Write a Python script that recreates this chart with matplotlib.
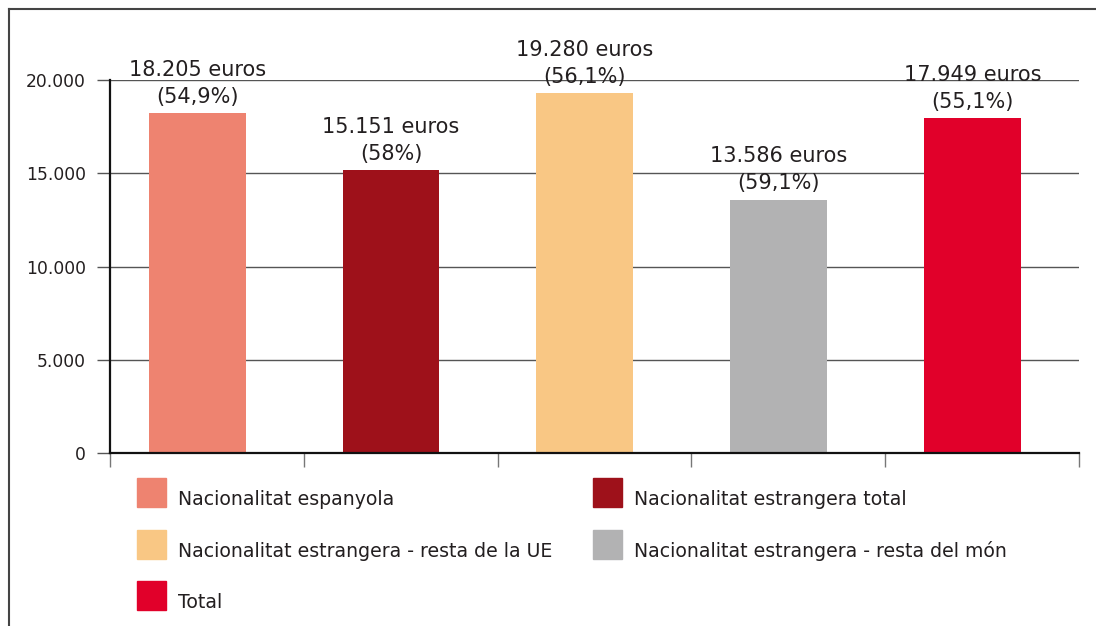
import matplotlib
matplotlib.use('Agg')
import matplotlib.pyplot as plt
from matplotlib.patches import Rectangle
from matplotlib.lines import Line2D
from matplotlib.ticker import FuncFormatter

plt.rcParams['font.family'] = ['DejaVu Sans']

categories = ['Nacionalitat espanyola', 'Nacionalitat estrangera total',
              'Nacionalitat estrangera - resta de la UE',
              'Nacionalitat estrangera - resta del món', 'Total']
values = [18205, 15151, 19280, 13586, 17949]
pct_labels = ['54,9%', '58%', '56,1%', '59,1%', '55,1%']
colors = ['#EE8370', '#9E111A', '#F9C784', '#B2B2B3', '#E1002A']
yticks = [0, 5000, 10000, 15000, 20000]

W, H = 1096, 626
TXT = '#231f20'
fig = plt.figure(figsize=(W / 100, H / 100), dpi=100)

def fx(px):
    return px / W

def fy(py):
    return 1 - py / H

ax = fig.add_axes([fx(110), fy(453), fx(1079) - fx(110), fy(80) - fy(453)])

def thousands(v, pos=None):
    return '{:,.0f}'.format(v).replace(',', '.')

x = [i - 0.05 for i in range(len(values))]
ax.bar(x, values, width=0.5, color=colors, zorder=3)

for xi, v, p in zip(x, values, pct_labels):
    ax.annotate('(%s)' % p, xy=(xi, v), xytext=(0, 7.5), textcoords='offset points',
                ha='center', va='baseline', fontsize=15, color=TXT)
    ax.annotate('%s euros' % thousands(v), xy=(xi, v), xytext=(0, 27), textcoords='offset points',
                ha='center', va='baseline', fontsize=15, color=TXT)

ax.set_xlim(-0.5, len(values) - 0.5)
ax.set_ylim(0, 20000)
ax.set_yticks(yticks)
ax.yaxis.set_major_formatter(FuncFormatter(thousands))
ax.set_xticks([i - 0.5 for i in range(len(values) + 1)])
ax.set_xticklabels([])
ax.grid(axis='y', color='#555555', linewidth=1, zorder=0)
ax.tick_params(axis='y', direction='out', length=9.4, width=1, color='#555555',
               labelsize=12.3, labelcolor=TXT, pad=8)
ax.tick_params(axis='x', direction='out', length=10, width=1, color='#777777')
for s in ['top', 'right']:
    ax.spines[s].set_visible(False)
for s in ['left', 'bottom']:
    ax.spines[s].set_linewidth(1.6)
    ax.spines[s].set_color('#111111')
    ax.spines[s].set_zorder(4)

# legend, two columns filled row by row
col_x = [137, 593]
row_y = [478, 530, 581]
for k, (lab, c) in enumerate(zip(categories, colors)):
    cx = col_x[k % 2]
    cy = row_y[k // 2]
    fig.patches.append(Rectangle((fx(cx), fy(cy + 29)), fx(29), 29 / H,
                                 transform=fig.transFigure, color=c))
    fig.text(fx(cx + 41), fy(cy + 27), lab, fontsize=13.6, color=TXT,
             va='baseline', ha='left')

# outer frame
fig.lines.append(Line2D([fx(9), fx(9)], [0, fy(9)], transform=fig.transFigure,
                        color='#444444', lw=1.5))
fig.lines.append(Line2D([fx(9), 1], [fy(9), fy(9)], transform=fig.transFigure,
                        color='#444444', lw=1.5))

fig.savefig('out.png', dpi=100)
